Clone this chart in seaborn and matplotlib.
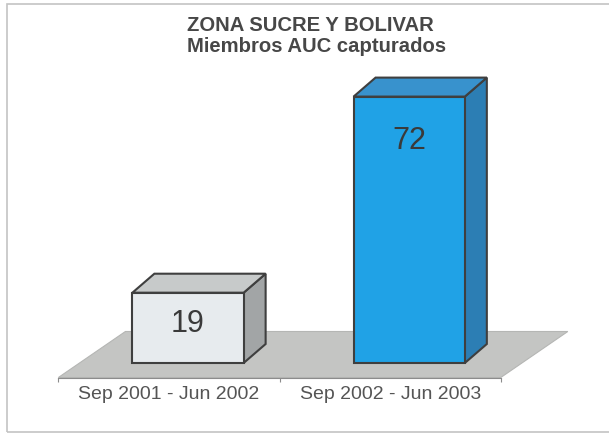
import numpy as np
import pandas as pd
import seaborn as sns
import matplotlib.pyplot as plt
from matplotlib.patches import Polygon, Rectangle

# datos
periodos = ["Sep 2001 - Jun 2002", "Sep 2002 - Jun 2003"]
capturados = [19, 72]
titulo1 = "ZONA SUCRE Y BOLIVAR"
titulo2 = "Miembros AUC capturados"

# colores: cara frontal, lado, techo
color_frente = ["#E7EBEE", "#20A2E6"]
color_lado = ["#A2A5A6", "#2C7EB4"]
color_techo = ["#C7CACA", "#3892CD"]
borde = "#3F3F3F"

sns.set_style("white")
plt.rcParams["font.family"] = ["Liberation Sans", "DejaVu Sans"]

W, H = 609, 435
fig = plt.figure(figsize=(W / 100, H / 100), dpi=100)
ax = fig.add_axes([0, 0, 1, 1])

# escala en pixeles (centro barra 0 en x=188, paso 221 px, base en y=364)
PX_X, X0 = 221.2, 188
PX_Y, Y0 = 3.70, 364
ancho = 0.503
n = len(periodos)


def px2data(dx, dy):
    return dx / PX_X, dy / PX_Y


df = pd.DataFrame({"periodo": periodos, "capturados": capturados})
sns.barplot(data=df, x="periodo", y="capturados", hue="periodo",
            palette=color_frente, saturation=1, width=ancho,
            edgecolor=borde, linewidth=1.5, legend=False, ax=ax, zorder=3)

ax.set_xlim(-X0 / PX_X, (W - X0) / PX_X)
ax.set_ylim((Y0 - H) / PX_Y, Y0 / PX_Y)

# profundidad 3D
bdx, bdy = px2data(22, 19)
fx0, fy0 = px2data(-19, -14.5)
fx1, fy1 = px2data(48, 31.5)

# piso
piso = Polygon([(-0.5 + fx0, fy0), (n - 0.5 + fx0, fy0),
                (n - 0.5 + fx1, fy1), (-0.5 + fx1, fy1)],
               closed=True, fc="#C4C5C3", ec="#B5B6B4", lw=0.8, zorder=1)
ax.add_patch(piso)

# lados y techos de las barras
for i, v in enumerate(capturados):
    x0, x1 = i - ancho / 2, i + ancho / 2
    lado = Polygon([(x1, 0), (x1 + bdx, bdy), (x1 + bdx, v + bdy), (x1, v)],
                   closed=True, fc=color_lado[i], ec=borde, lw=1.5, zorder=2.5)
    techo = Polygon([(x0, v), (x1, v), (x1 + bdx, v + bdy), (x0 + bdx, v + bdy)],
                    closed=True, fc=color_techo[i], ec=borde, lw=1.5, zorder=2.5)
    ax.add_patch(lado)
    ax.add_patch(techo)

# etiquetas de valor
caida_px = [30, 43]
for i, v in enumerate(capturados):
    ax.annotate(str(v), (i, v), xytext=(0, -caida_px[i] * 0.72),
                textcoords="offset points", ha="center", va="center",
                fontsize=22, color="#3A3A3A", zorder=5)

# eje x en el borde frontal del piso
for s in ["top", "right", "left"]:
    ax.spines[s].set_visible(False)
ax.spines["bottom"].set_position(("data", fy0))
ax.spines["bottom"].set_bounds(-0.5 + fx0, n - 0.5 + fx0)
ax.spines["bottom"].set_color("#8C8C8C")
ax.spines["bottom"].set_linewidth(0.8)
ax.spines["bottom"].set_zorder(1.5)

ax.set_xticks([k - 0.5 + fx0 for k in range(n + 1)], labels=[""] * (n + 1))
ax.set_xticks([i + fx0 for i in range(n)], labels=periodos, minor=True)
ax.tick_params(axis="x", which="major", bottom=True, length=3, width=0.8,
               color="#8C8C8C", direction="out")
ax.tick_params(axis="x", which="minor", bottom=True, length=0, pad=5.5,
               labelsize=14, labelcolor="#555555")
ax.set_yticks([])
ax.set_xlabel("")
ax.set_ylabel("")
ax.patch.set_alpha(0)

# titulo
fig.text(310.5 / W, 1 - 31 / H, titulo1, ha="center", va="baseline",
         fontsize=14.6, fontweight="bold", color="#474747")
fig.text(316.7 / W, 1 - 52.3 / H, titulo2, ha="center", va="baseline",
         fontsize=14.6, fontweight="bold", color="#474747")

# marco (el borde derecho queda fuera de la imagen)
fig.patches.append(Rectangle((7 / W, (H - 433) / H), (W + 20) / W, (433 - 5) / H,
                             transform=fig.transFigure, fill=False,
                             ec="#C4C4C4", lw=1.2, figure=fig))

fig.savefig("out.png", dpi=100)
